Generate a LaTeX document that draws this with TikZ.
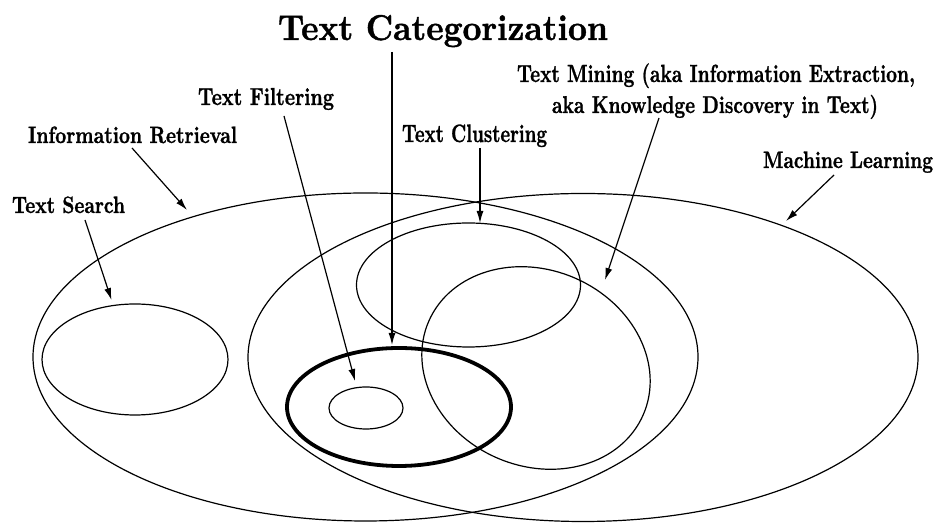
\documentclass[tikz,border=0pt]{standalone}
\usepackage{fontspec}
\usetikzlibrary{arrows.meta}
\newfontfamily\heavyfont{Latin Modern Roman}[FakeBold=1.2]
\newcommand{\lab}[3]{\resizebox{#1pt}{#2pt}{\heavyfont\bfseries #3}}
\tikzset{
  thin ell/.style={draw=black, line width=1.2pt},
  thick ell/.style={draw=black, line width=3.8pt},
  pointer/.style={draw=black, line width=1.2pt, -{Latex[length=12pt,width=7pt]}},
  lbl/.style={anchor=base west, inner sep=0pt, outer sep=0pt}
}
\begin{document}
\begin{tikzpicture}[x=1pt,y=1pt]
\useasboundingbox (0,0) rectangle (935,529);
% ellipses
\draw[thin ell] (365.5,172) ellipse [x radius=332.5, y radius=164];
\draw[thin ell] (583,171.5) ellipse [x radius=335, y radius=164];
\draw[thin ell] (135,169.5) ellipse [x radius=93, y radius=55.5];
\draw[thin ell] (468.5,244) ellipse [x radius=112, y radius=62];
\draw[thin ell] (536,161) ellipse [x radius=117, y radius=98, rotate=-23.6];
\draw[thick ell] (399,122) ellipse [x radius=112, y radius=59];
\draw[thin ell] (366,121) ellipse [x radius=37, y radius=21];
% labels
\node[lbl] (tc) at (278,489) {\lab{330}{25}{Text Categorization}};
\node[lbl] (tm1) at (517,447) {\lab{398}{18.6}{Text Mining (aka Information Extraction,}};
\node[lbl] (tm2) at (552,416) {\lab{326}{18.2}{aka Knowledge Discovery in Text)}};
\node[lbl] (tf) at (198,424) {\lab{136}{17}{Text Filtering}};
\node[lbl] (tcl) at (402,387) {\lab{145}{17.5}{Text Clustering}};
\node[lbl] (ml) at (763,361) {\lab{170}{16.5}{Machine Learning}};
\node[lbl] (ts) at (12,316) {\lab{113}{16.5}{Text Search}};
\node[lbl] (ir) at (28,386) {\lab{209}{16.5}{Information Retrieval}};
% arrow endpoints
\coordinate (tcS) at (392,477); \coordinate (tcE) at (392,184);
\coordinate (tfS) at (284,413); \coordinate (tfE) at (355,148);
\coordinate (tclS) at (480,381); \coordinate (tclE) at (480,306);
\coordinate (tmS) at (659,411); \coordinate (tmE) at (605,249);
\coordinate (irS) at (132,381); \coordinate (irE) at (187,319);
\coordinate (tsS) at (85,309); \coordinate (tsE) at (111.5,229);
\coordinate (mlS) at (834,354); \coordinate (mlE) at (786,308);
\draw[pointer] (tcS) -- (tcE);
\draw[pointer] (tfS) -- (tfE);
\draw[pointer] (tclS) -- (tclE);
\draw[pointer] (tmS) -- (tmE);
\draw[pointer] (irS) -- (irE);
\draw[pointer] (tsS) -- (tsE);
\draw[pointer] (mlS) -- (mlE);
\end{tikzpicture}
\end{document}
